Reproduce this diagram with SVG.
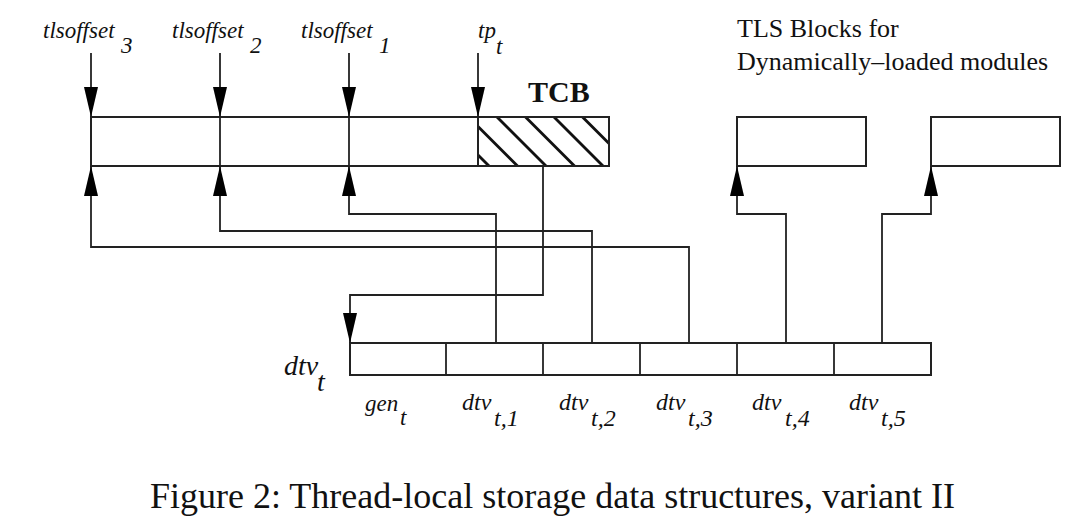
<svg xmlns="http://www.w3.org/2000/svg" width="1084" height="532" viewBox="0 0 1084 532">
<style>
.box{fill:none;stroke:#222;stroke-width:2}
.ln{fill:none;stroke:#222;stroke-width:1.8}
.ar{fill:none;stroke:#222;stroke-width:1.8;marker-end:url(#arr)}
.it{font-family:"Liberation Serif",serif;font-style:italic;font-size:23px;fill:#111}
.it2{font-family:"Liberation Serif",serif;font-style:italic;font-size:24px;fill:#111}
.it3{font-family:"Liberation Serif",serif;font-style:italic;font-size:28px;fill:#111}
.rm{font-family:"Liberation Serif",serif;font-size:26px;fill:#111}
.bd{font-family:"Liberation Serif",serif;font-weight:bold;font-size:30px;fill:#111}
.hat{stroke:#111;stroke-width:2.8}
</style>
<defs>
<marker id="arr" viewBox="0 0 30 14" refX="30" refY="7" markerWidth="30" markerHeight="14" markerUnits="userSpaceOnUse" orient="auto">
<path d="M0,0 L30,7 L0,14 z" fill="#000"/>
</marker>
<clipPath id="tcbclip"><rect x="478" y="117" width="131" height="49"/></clipPath>
</defs>
<rect width="1084" height="532" fill="#fff"/>

<g id="static-tls">
<rect class="box" x="91" y="117" width="518" height="49"/>
<line class="ln" x1="220" y1="117" x2="220" y2="166"/>
<line class="ln" x1="349" y1="117" x2="349" y2="166"/>
<line class="ln" x1="478" y1="117" x2="478" y2="166"/>
</g>

<g id="tcb">
<g clip-path="url(#tcbclip)">
<line class="hat" x1="440" y1="117" x2="489" y2="166"/>
<line class="hat" x1="468.5" y1="117" x2="517.5" y2="166"/>
<line class="hat" x1="497" y1="117" x2="546" y2="166"/>
<line class="hat" x1="525.5" y1="117" x2="574.5" y2="166"/>
<line class="hat" x1="554" y1="117" x2="603" y2="166"/>
<line class="hat" x1="582.5" y1="117" x2="631.5" y2="166"/>
<line class="hat" x1="611" y1="117" x2="660" y2="166"/>
</g>
<rect class="box" x="478" y="117" width="131" height="49"/>
<text class="bd" x="528" y="102">TCB</text>
</g>

<g id="dyn-blocks">
<rect class="box" x="737" y="117" width="129" height="49"/>
<rect class="box" x="931" y="117" width="129" height="49"/>
<text class="rm" x="737" y="37">TLS Blocks for</text>
<text class="rm" x="737" y="70">Dynamically–loaded modules</text>
</g>

<g id="dtv">
<rect class="box" x="350" y="343" width="581" height="32"/>
<line class="ln" x1="446" y1="343" x2="446" y2="375"/>
<line class="ln" x1="543" y1="343" x2="543" y2="375"/>
<line class="ln" x1="640" y1="343" x2="640" y2="375"/>
<line class="ln" x1="737" y1="343" x2="737" y2="375"/>
<line class="ln" x1="834" y1="343" x2="834" y2="375"/>
<text class="it3" x="284" y="375">dtv</text><text class="it3" x="317" y="391">t</text>
<text class="it" x="365" y="411">gen</text><text class="it" x="400" y="425">t</text>
<text class="it2" x="462" y="410">dtv</text><text class="it2" x="494" y="426">t,1</text>
<text class="it2" x="559" y="410">dtv</text><text class="it2" x="591" y="426">t,2</text>
<text class="it2" x="656" y="410">dtv</text><text class="it2" x="688" y="426">t,3</text>
<text class="it2" x="752" y="410">dtv</text><text class="it2" x="785" y="426">t,4</text>
<text class="it2" x="849" y="410">dtv</text><text class="it2" x="881" y="426">t,5</text>
</g>

<g id="labels">
<text class="it" x="43" y="38">tlsoffset</text><text class="it" x="121" y="53">3</text>
<text class="it" x="172" y="38">tlsoffset</text><text class="it" x="250" y="53">2</text>
<text class="it" x="301" y="38">tlsoffset</text><text class="it" x="379" y="53">1</text>
<text class="it" x="478" y="38">tp</text><text class="it" x="496" y="54">t</text>
</g>

<g id="connectors">
<line class="ar" x1="91" y1="53" x2="91" y2="117"/>
<line class="ar" x1="220" y1="53" x2="220" y2="117"/>
<line class="ar" x1="349" y1="53" x2="349" y2="117"/>
<line class="ar" x1="478" y1="53" x2="478" y2="117"/>
<path class="ar" d="M496,343 V214 H349 V166"/>
<path class="ar" d="M592,343 V231 H220 V166"/>
<path class="ar" d="M689,343 V247 H91 V166"/>
<path class="ar" d="M543,166 V295 H350 V343"/>
<path class="ar" d="M786,343 V214 H737 V166"/>
<path class="ar" d="M882,343 V214 H931 V166"/>
</g>

<text id="caption" x="150" y="508" font-family="Liberation Serif, serif" font-size="36" fill="#111">Figure 2: Thread-local storage data structures, variant II</text>
</svg>
